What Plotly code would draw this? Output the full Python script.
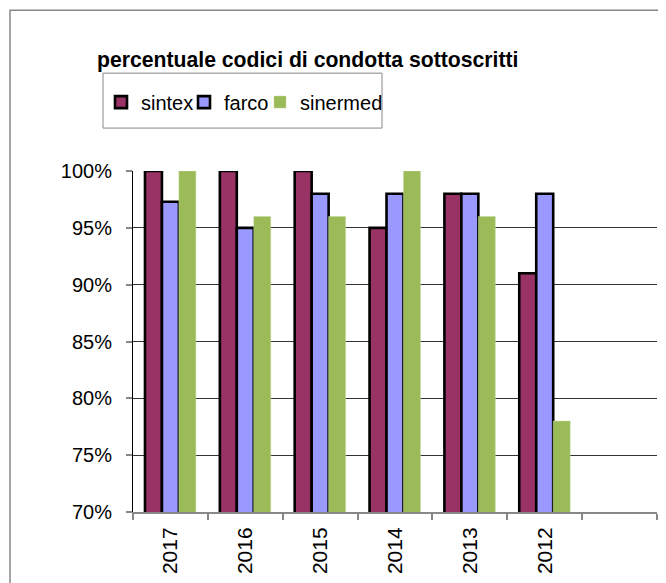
import plotly.graph_objects as go

categories = ["2017", "2016", "2015", "2014", "2013", "2012", " "]
sintex = [100, 100, 100, 95, 98, 91, None]
farco = [97.3, 95, 98, 98, 98, 98, None]
sinermed = [100, 96, 96, 100, 96, 78, None]

OFF = 8  # default page body margin
W, H = 666 - OFF, 583 - OFF
ML, MT = 133 - OFF, 171 - OFF
MR = W - (657 - OFF)
MB = H - (512.5 - OFF)
PW, PH = W - ML - MR, H - MT - MB

def px_x(x):  # page pixel -> paper
    return (x - OFF - ML) / PW

def px_y(y):
    return 1 - (y - OFF - MT) / PH

FONT = "Liberation Sans, Arial, sans-serif"

fig = go.Figure()
fig.add_trace(go.Bar(name="sintex", x=categories, y=sintex, legendwidth=38,
                     marker=dict(color="#993366", line=dict(color="black", width=2.6))))
fig.add_trace(go.Bar(name="farco", x=categories, y=farco, legendwidth=31,
                     marker=dict(color="#9999FF", line=dict(color="black", width=2.6))))
fig.add_trace(go.Bar(name="sinermed", x=categories, y=sinermed,
                     marker=dict(color="#9BBB59", line=dict(color="#C3D69B", width=0.5))))

fig.update_layout(
    width=W, height=H,
    margin=dict(l=ML, r=MR, t=MT, b=MB, pad=0),
    paper_bgcolor="white", plot_bgcolor="white",
    barmode="group", bargap=0.32, bargroupgap=0,
    font=dict(family=FONT, color="black"),
    title=dict(text="<b>percentuale codici di condotta sottoscritti</b>",
               font=dict(size=21.2, family=FONT, color="black"),
               x=(97 - OFF) / W, xanchor="left", xref="container",
               y=1 - (60 - OFF) / H, yanchor="middle", yref="container"),
    legend=dict(orientation="h", x=px_x(101), y=px_y(102), xanchor="left", yanchor="middle",
                font=dict(size=20, family=FONT), bgcolor="rgba(0,0,0,0)",
                borderwidth=0, itemwidth=30, traceorder="normal"),
    showlegend=True,
    xaxis=dict(type="category", categoryorder="array", categoryarray=categories,
               range=[-0.5, 6.5], showline=True, linecolor="#888888", linewidth=2,
               ticks="outside", tickson="boundaries", ticklen=6, tickwidth=2,
               tickcolor="#888888", tickangle=-90, tickfont=dict(size=21, family=FONT),
               ticklabelstandoff=5, showgrid=False, zeroline=False),
    yaxis=dict(range=[70, 100], dtick=5, ticksuffix="%", showline=True,
               linecolor="black", linewidth=1, ticks="outside", ticklen=6,
               tickcolor="#888888", tickwidth=1.5, tickfont=dict(size=20, family=FONT),
               ticklabelstandoff=10, showgrid=True, gridcolor="#333333", gridwidth=1,
               zeroline=False),
    shapes=[
        dict(type="rect", xref="paper", yref="paper",
             x0=px_x(10), x1=px_x(690), y0=px_y(610), y1=px_y(10),
             line=dict(color="#888888", width=1.5), fillcolor="rgba(0,0,0,0)", layer="below"),
        dict(type="rect", xref="paper", yref="paper",
             x0=px_x(103), x1=px_x(382), y0=px_y(128), y1=px_y(73),
             line=dict(color="#888888", width=1), fillcolor="rgba(0,0,0,0)", layer="below"),
    ],
)

fig.write_html("out.html")
